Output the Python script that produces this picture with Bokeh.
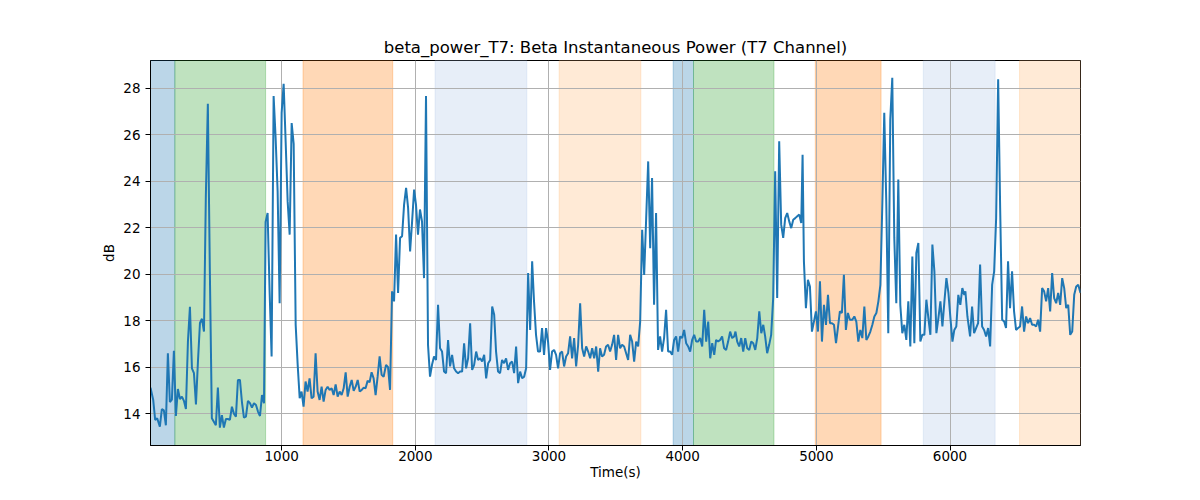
from bokeh.plotting import figure
from bokeh.models import BoxAnnotation, Range1d, FixedTicker
from bokeh.embed import file_html
from bokeh.resources import INLINE

title = "beta_power_T7: Beta Instantaneous Power (T7 Channel)"
x_label = "Time(s)"
y_label = "dB"
x_ticks = [1000, 2000, 3000, 4000, 5000, 6000]
y_ticks = [14, 16, 18, 20, 22, 24, 26, 28]

times = [
    19, 39, 54, 69, 89, 104, 119, 134, 149, 164, 179, 194, 209, 224, 239, 254, 269, 284, 299, 314,
    329, 344, 359, 374, 389, 404, 419, 433, 448, 463, 478, 493, 508, 523, 538, 553, 568, 583, 598, 613,
    628, 643, 658, 673, 688, 703, 718, 733, 748, 763, 778, 793, 808, 823, 838, 853, 868, 880, 895,
    910, 925, 940, 955, 970, 985, 1000, 1015, 1030, 1045, 1060, 1075, 1090, 1105, 1120, 1135, 1149, 1164, 1179, 1194,
    1209, 1224, 1239, 1254, 1269, 1284, 1299, 1314, 1329, 1344, 1359, 1374, 1389, 1404, 1419, 1434, 1449, 1464, 1479, 1494,
    1509, 1524, 1539, 1554, 1569, 1584, 1599, 1614, 1628, 1643, 1658, 1673, 1688, 1703, 1718, 1733, 1748, 1763,
    1781, 1796, 1811, 1826, 1841, 1856, 1871, 1886, 1901, 1916, 1931, 1946, 1961, 1976, 1991, 2005, 2020, 2035, 2050, 2065,
    2080, 2095, 2110, 2125, 2140, 2155, 2170, 2185, 2200, 2215, 2230, 2245, 2260, 2275, 2290, 2305, 2320, 2335, 2350, 2365,
    2380, 2395, 2410, 2425, 2440, 2455, 2470, 2485, 2500, 2515, 2530, 2545, 2560, 2575, 2590, 2604, 2619, 2634, 2649,
    2664, 2679, 2694, 2709, 2724, 2739, 2754, 2769, 2784, 2799, 2814, 2829, 2844, 2859, 2874, 2888, 2903, 2918, 2933, 2948,
    2963, 2978, 2993, 3008, 3023, 3038, 3053, 3068, 3083, 3098, 3113, 3128, 3143, 3158, 3173, 3188, 3203, 3218, 3233, 3248,
    3263, 3278, 3293, 3308, 3323, 3338, 3353, 3368, 3382, 3397, 3412, 3427, 3442, 3457, 3472, 3487, 3502, 3517,
    3532, 3547, 3562, 3577, 3592, 3607, 3622, 3637, 3652, 3667, 3682, 3697, 3712, 3727, 3742, 3757, 3771, 3786, 3801, 3816,
    3831, 3846, 3861, 3876, 3891, 3906, 3921, 3936, 3951, 3966, 3981, 3996, 4011, 4026, 4041, 4056, 4071, 4086, 4101, 4116,
    4131, 4146, 4161, 4176, 4191, 4206, 4221, 4236, 4250, 4265, 4280, 4295, 4310, 4325, 4340, 4355, 4370, 4385, 4395,
    4408, 4423, 4438, 4453, 4468, 4483, 4498, 4513, 4528, 4543, 4558, 4573, 4588, 4603, 4617, 4632, 4647, 4662, 4677, 4692,
    4707, 4722, 4737, 4752, 4767, 4782, 4797, 4812, 4827, 4842, 4857, 4872, 4887, 4897, 4907, 4922, 4937, 4952, 4967, 4982,
    4997, 5012, 5027, 5042, 5057, 5072, 5087, 5102, 5117, 5132, 5147, 5161, 5176, 5191, 5206, 5221, 5236, 5251,
    5269, 5284, 5299, 5314, 5329, 5344, 5359, 5374, 5389, 5404, 5419, 5434, 5449, 5464, 5479, 5494, 5508, 5523, 5538, 5553,
    5568, 5583, 5598, 5613, 5628, 5643, 5658, 5673, 5688, 5703, 5718, 5733, 5748, 5763, 5778, 5793, 5808, 5823, 5838, 5853,
    5868, 5883, 5898, 5913, 5928, 5943, 5958, 5973, 5988, 6003, 6018, 6032, 6047, 6062, 6077, 6092, 6107,
    6115, 6130, 6140, 6150, 6165, 6180, 6195, 6210, 6225, 6240, 6255, 6270, 6285, 6300, 6315, 6330, 6345, 6360, 6375, 6390,
    6405, 6419, 6434, 6449, 6464, 6479, 6494, 6509, 6524, 6539, 6554, 6569, 6584, 6599, 6614, 6629, 6644, 6659, 6674, 6689,
    6704, 6719, 6734, 6749, 6764, 6779, 6794, 6809, 6824, 6839, 6854, 6869, 6884, 6899, 6914, 6929, 6944, 6959, 6976,
]

power_db = [
    15.12, 14.60, 13.73, 13.80, 13.44, 14.20, 14.14, 13.50, 16.60, 14.50, 14.60, 16.70, 13.90, 15.06, 14.63, 14.73, 14.55, 14.20, 17.10, 18.60,
    15.95, 15.74, 14.40, 16.24, 17.90, 18.08, 17.53, 23.35, 27.33, 20.10, 13.80, 13.65, 13.50, 15.12, 13.40, 13.94, 13.40, 13.77, 13.77, 13.73,
    14.30, 14.00, 13.87, 15.45, 15.45, 14.50, 13.83, 13.87, 14.55, 14.45, 14.26, 14.45, 14.37, 14.09, 13.90, 14.80, 14.45, 22.25, 22.63,
    19.26, 16.46, 27.66, 25.86, 23.56, 18.75, 26.94, 28.19, 25.70, 23.13, 21.70, 26.50, 25.60, 17.82, 16.10, 14.66, 14.95, 14.30, 15.38, 14.95,
    15.52, 14.66, 14.73, 16.60, 14.95, 14.59, 15.16, 14.52, 15.02, 15.16, 15.02, 15.09, 14.80, 15.26, 14.73, 14.95, 14.80, 15.09, 15.78, 14.73,
    15.16, 15.45, 14.98, 15.16, 15.45, 14.95, 15.02, 15.12, 15.09, 15.41, 15.35, 15.78, 15.52, 14.80, 15.59, 16.46, 15.67, 15.59,
    16.10, 16.00, 15.02, 19.26, 18.83, 21.70, 19.19, 21.56, 21.63, 22.99, 23.71, 22.85, 20.98, 22.27, 23.64, 22.99, 21.70, 22.78, 22.27, 19.83,
    27.66, 16.96, 15.59, 16.10, 16.46, 16.31, 18.68, 16.81, 16.67, 15.81, 15.74, 17.17, 16.03, 16.53, 15.95, 15.81, 15.74, 15.81, 15.81, 17.03,
    15.95, 16.38, 17.89, 15.88, 16.10, 16.67, 16.31, 16.38, 16.24, 16.53, 15.52, 16.17, 16.31, 18.61, 18.25, 16.67, 15.81, 15.74, 16.31,
    16.17, 16.38, 15.88, 16.17, 16.24, 15.74, 16.89, 15.31, 15.81, 15.52, 15.59, 15.95, 20.05, 17.60, 20.55, 18.83, 17.39, 16.67, 16.67, 17.68,
    16.53, 17.68, 17.10, 15.88, 16.67, 16.74, 16.53, 15.95, 16.60, 16.67, 16.03, 16.46, 16.60, 17.32, 16.38, 17.25, 16.03, 16.96, 18.75, 16.81,
    16.46, 16.89, 16.67, 16.38, 16.81, 16.38, 16.89, 15.81, 16.81, 16.46, 16.53, 16.89, 16.96, 16.67, 16.96, 17.39, 16.31, 17.39,
    16.81, 16.96, 16.89, 16.60, 16.31, 17.39, 17.10, 16.24, 17.10, 16.89, 17.96, 21.91, 19.97, 22.41, 24.85, 21.12, 24.13, 18.68, 22.63, 16.74,
    17.32, 16.67, 17.25, 18.47, 16.67, 16.67, 16.53, 17.17, 17.32, 16.67, 17.32, 17.25, 17.60, 17.03, 16.89, 16.67, 17.17, 17.39, 17.10, 17.10,
    17.25, 16.89, 18.47, 17.10, 17.96, 16.38, 17.03, 16.53, 17.17, 17.10, 17.17, 17.32, 16.81, 16.74, 17.10, 17.53, 17.25, 17.32, 17.53,
    17.10, 16.89, 17.25, 16.67, 17.25, 16.81, 16.74, 17.10, 17.03, 16.74, 17.25, 18.40, 17.46, 17.82, 17.32, 16.60, 16.96, 17.39, 18.97, 24.43,
    18.97, 25.72, 22.13, 21.56, 22.41, 22.63, 22.27, 21.98, 22.34, 22.41, 22.49, 22.56, 22.20, 25.14, 20.55, 18.54, 19.76, 19.47, 17.53, 17.96,
    18.40, 17.53, 19.69, 17.10, 18.68, 17.82, 19.11, 17.89, 17.89, 17.82, 17.03, 17.68, 18.40, 18.33, 19.97, 17.60, 18.33, 18.04,
    18.04, 18.18, 17.96, 17.10, 17.60, 17.25, 18.61, 17.17, 17.32, 17.53, 17.82, 18.18, 18.33, 18.83, 19.54, 23.13, 26.94, 23.13, 17.46, 26.65,
    28.45, 21.56, 18.75, 24.07, 18.68, 17.46, 17.82, 17.17, 18.83, 16.89, 20.76, 17.03, 20.91, 21.34, 17.10, 17.39, 17.39, 18.90, 18.11, 17.39,
    21.27, 20.12, 17.46, 18.11, 18.83, 17.75, 18.83, 19.83, 19.19, 18.11, 17.10, 17.60, 17.75, 19.11, 18.68, 19.40, 19.11,
    19.26, 18.18, 17.75, 17.32, 18.61, 17.46, 17.68, 17.89, 20.41, 17.75, 17.60, 17.32, 17.68, 16.89, 19.54, 20.12, 22.41, 28.38, 22.85, 18.04,
    17.96, 17.68, 20.55, 18.54, 20.12, 18.40, 17.60, 17.68, 17.75, 18.61, 17.53, 18.18, 17.89, 18.11, 17.82, 17.82, 17.75, 18.04, 17.53, 19.40,
    19.26, 18.83, 19.40, 18.40, 20.05, 18.97, 18.75, 19.19, 18.68, 19.83, 19.40, 18.54, 18.68, 17.39, 17.53, 19.11, 19.47, 19.54, 19.19,
]

span_starts = [19, 201, 1160, 2148, 3076, 3929, 4081, 4992, 5800, 6520]
span_ends = [201, 880, 1831, 2834, 3687, 4081, 4683, 5484, 6337, 6976]
span_colors = ["#1f77b4", "#2ca02c", "#ff7f0e", "#aec7e8", "#ffbb78",
               "#1f77b4", "#2ca02c", "#ff7f0e", "#aec7e8", "#ffbb78"]

x_min, x_max = 19, 6976
y_min, y_max = 12.63, 29.19

FONT = "DejaVu Sans"

p = figure(width=1184, height=484, output_backend="svg", toolbar_location=None,
           x_range=Range1d(x_min, x_max), y_range=Range1d(y_min, y_max),
           title=title,
           min_border_left=150, min_border_right=104, min_border_top=60, min_border_bottom=39)

p.title.text_font = FONT
p.title.text_font_size = "16.5px"
p.title.text_font_style = "normal"
p.title.align = "center"
p.title.text_color = "black"
p.title.standoff = 8

for s, e, c in zip(span_starts, span_ends, span_colors):
    p.add_layout(BoxAnnotation(left=s, right=e, fill_color=c, fill_alpha=0.3,
                               line_color=c, line_alpha=0.3, line_width=1, level="image"))

p.line(times, power_db, line_color="#1f77b4", line_width=2)

p.xaxis.ticker = FixedTicker(ticks=x_ticks)
p.yaxis.ticker = FixedTicker(ticks=y_ticks)
p.xaxis.axis_label = x_label
p.yaxis.axis_label = y_label

for ax in (p.xaxis, p.yaxis):
    ax.axis_label_text_font = FONT
    ax.axis_label_text_font_size = "13.5px"
    ax.axis_label_text_font_style = "normal"
    ax.axis_label_text_color = "black"
    ax.major_label_text_font = FONT
    ax.major_label_text_font_size = "13.5px"
    ax.major_label_text_color = "black"
    ax.axis_line_color = "black"
    ax.major_tick_line_color = "black"
    ax.major_tick_in = 0
    ax.major_tick_out = 5
    ax.minor_tick_line_color = None

p.xaxis.major_label_standoff = 0
p.xaxis.axis_label_standoff = 0
p.yaxis.major_label_standoff = 5
p.yaxis.axis_label_standoff = 3

p.grid.grid_line_color = "#b0b0b0"
p.grid.grid_line_width = 1
p.grid.grid_line_alpha = 1.0

p.outline_line_color = "black"
p.outline_line_width = 1
p.outline_line_alpha = 1.0
p.background_fill_color = "white"
p.border_fill_color = "white"

open("out.html", "w").write(file_html(p, INLINE))
